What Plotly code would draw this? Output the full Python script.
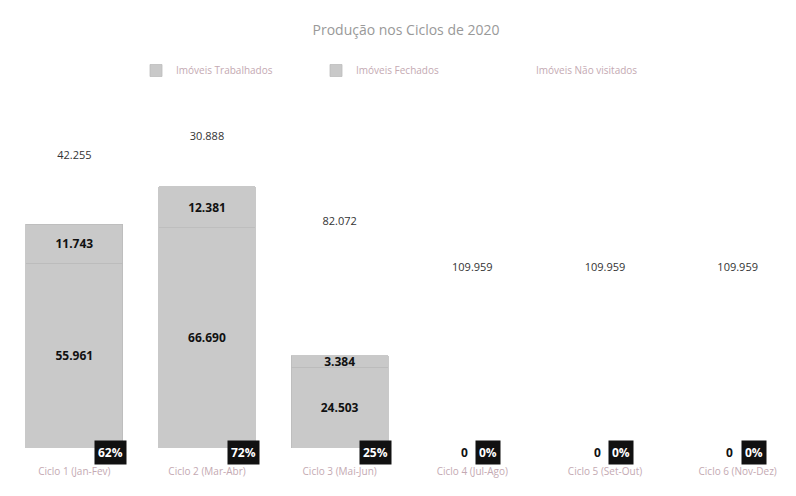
import plotly.graph_objects as go

ciclos = ["Ciclo 1 (Jan-Fev)", "Ciclo 2 (Mar-Abr)", "Ciclo 3 (Mai-Jun)",
          "Ciclo 4 (Jul-Ago)", "Ciclo 5 (Set-Out)", "Ciclo 6 (Nov-Dez)"]
trabalhados = [55961, 66690, 24503, 0, 0, 0]
fechados = [11743, 12381, 3384, 0, 0, 0]
nao_visitados = [42255, 30888, 82072, 109959, 109959, 109959]
percentual = ["62%", "72%", "25%", "0%", "0%", "0%"]


def fmt(v):
    return f"{v:,}".replace(",", ".")


FONT = "Open Sans, DejaVu Sans, sans-serif"
BAR = "#c9c9c9"
EDGE = "#bcbcbc"

fig = go.Figure()
fig.add_trace(go.Bar(
    name="Imóveis Trabalhados", x=ciclos, y=trabalhados,
    marker=dict(color=BAR, line=dict(color=EDGE, width=0.8)),
    text=[fmt(v) if v else "" for v in trabalhados],
    textposition="inside", insidetextanchor="middle", constraintext="none",
    textfont=dict(color="#111111", size=12, family=FONT, weight="bold"),
))
fig.add_trace(go.Bar(
    name="Imóveis Fechados", x=ciclos, y=fechados,
    marker=dict(color=BAR, line=dict(color=EDGE, width=0.8)),
    text=[fmt(v) if v else "" for v in fechados],
    textposition="inside", insidetextanchor="middle", constraintext="none",
    textfont=dict(color="#111111", size=12, family=FONT, weight="bold"),
))
fig.add_trace(go.Bar(
    name="Imóveis Não visitados", x=ciclos, y=nao_visitados,
    marker=dict(color="rgba(255,255,255,0)", line=dict(width=0)),
    text=[fmt(v) for v in nao_visitados],
    textposition="inside", insidetextanchor="middle", constraintext="none",
    textfont=dict(color="#333333", size=11, family=FONT),
))

annotations = []
for c, t, f, p in zip(ciclos, trabalhados, fechados, percentual):
    if t == 0:
        annotations.append(dict(
            x=c, y=0, text="<b>0</b>", showarrow=False, xshift=-8, yshift=-4,
            font=dict(color="#111111", size=12, family=FONT)))
    annotations.append(dict(
        x=c, y=0, text=f"<b>{p}</b>", showarrow=False,
        xshift=36 if t else 16, yshift=-4,
        bgcolor="#111111", borderpad=3,
        font=dict(color="#ffffff", size=12, family=FONT)))

fig.update_layout(
    barmode="stack",
    bargap=0.27,
    width=796, height=496,
    margin=dict(l=0, r=0, t=77, b=56),
    paper_bgcolor="#ffffff", plot_bgcolor="#ffffff",
    title=dict(text="Produção nos Ciclos de 2020", x=0.5, xanchor="center",
               y=0.965, yanchor="top",
               font=dict(size=14, color="#999999", family=FONT)),
    legend=dict(orientation="h", x=0.5, xanchor="center", y=1.0, yanchor="bottom",
                traceorder="normal", entrywidth=135,
                font=dict(size=10, color="#c4a9b2", family=FONT)),
    xaxis=dict(showgrid=False, showline=False, zeroline=False,
               ticklabelstandoff=16,
               tickfont=dict(size=10, color="#c4a9b2", family=FONT), ticks=""),
    yaxis=dict(visible=False, range=[0, 109959]),
    annotations=annotations,
    showlegend=True,
)

fig.write_html("out.html")
